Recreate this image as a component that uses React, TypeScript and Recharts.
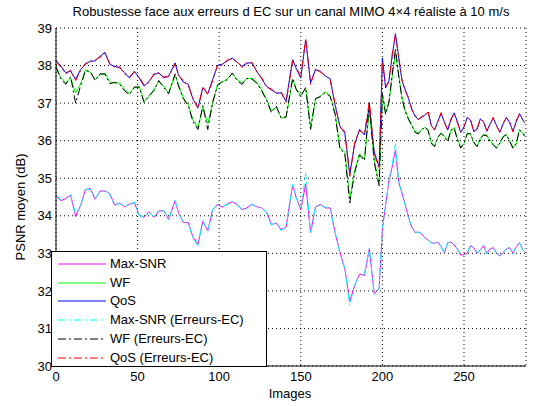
import { CartesianGrid, Legend, Line, LineChart, XAxis, YAxis } from 'recharts';

const images = [
	0, 3, 6, 9, 12, 15, 18, 21, 24, 27, 30, 33, 36, 39, 42, 45, 48, 51, 54, 57, 60, 63, 66, 69,
	73, 75, 78, 81, 84, 87, 90, 93, 96, 99, 102, 105, 108, 111, 114, 117, 120, 123, 126, 129, 132, 135, 138, 141,
	145, 147,
	150, 153, 156, 159, 162, 165, 168, 171, 174, 177, 180, 183, 186, 189, 192, 195, 198,
	200, 202, 204, 206, 208, 210,
	212, 214, 216, 218, 220, 222, 224, 226, 228, 230, 232, 234, 236, 238, 240, 242, 244, 246, 248, 250,
	252, 254, 256, 258, 260, 262, 264, 266, 268, 270, 272, 274, 276, 278, 280, 282, 284, 286, 287,
];

const maxSnr = [
	34.53, 34.4, 34.46, 34.55, 33.98, 34.27, 34.69, 34.73, 34.44, 34.66, 34.66, 34.58, 34.28, 34.34, 34.24, 34.31, 34.35, 34.02, 33.96, 34.11, 33.96, 34.13, 34.13, 33.91,
	34.4, 34.09, 33.82, 33.82, 33.42, 33.25, 33.85, 33.6, 34.16, 34.3, 34.23, 34.32, 34.37, 34.3, 34.16, 34.21, 34.3, 34.24, 34.21, 34.1, 33.77, 33.8, 33.63, 33.7,
	34.82, 34.52,
	34.16, 34.85, 33.55, 34.23, 34.3, 34.21, 34.21, 33.55, 33.02, 32.58, 31.72, 32.14, 32.45, 32.41, 33.12, 31.93, 32.06,
	33.64, 34.3, 34.93, 35.3, 35.75, 34.9,
	34.6, 34.3, 33.95, 33.7, 33.55, 33.57, 33.52, 33.42, 33.35, 33.28, 33.27, 33.3, 33.18, 33.02, 33.28, 33.3, 33.22, 33.12, 32.95, 32.97,
	33.0, 33.2, 33.15, 33.0, 33.1, 33.2, 33.0, 33.12, 33.15, 33.0, 32.93, 33.02, 33.12, 33.15, 33.0, 33.18, 33.28, 33.1, 33.05,
];

const wf = [
	37.98, 37.67, 37.54, 37.67, 37.27, 37.5, 37.89, 37.82, 37.63, 37.76, 37.8, 37.56, 37.54, 37.54, 37.36, 37.26, 37.41, 37.45, 37.05, 37.17, 37.36, 37.58, 37.45, 37.27,
	37.75, 37.5, 37.14, 36.96, 36.55, 36.35, 36.9, 36.45, 37.0, 37.5, 37.56, 37.65, 37.79, 37.63, 37.54, 37.65, 37.67, 37.56, 37.36, 37.1, 36.79, 36.9, 36.6, 36.62,
	37.63, 37.4,
	37.2, 37.4, 36.35, 37.1, 37.2, 37.3, 37.2, 36.75, 35.8, 35.7, 34.45, 35.2, 35.65, 35.5, 36.8, 35.5, 34.85,
	37.2, 36.75, 37.0, 37.7, 38.35, 37.75,
	37.15, 36.8, 36.6, 36.42, 36.25, 36.2, 36.3, 36.35, 36.3, 35.95, 35.86, 36.08, 36.21, 36.12, 36.0, 36.26, 36.35, 36.05, 35.82, 35.92,
	36.2, 36.17, 35.97, 35.86, 36.04, 36.17, 36.15, 36.0, 35.9, 35.82, 35.92, 36.12, 36.15, 36.0, 35.82, 35.9, 36.3, 36.2, 36.15,
];

const qos = [
	38.14, 37.98, 37.81, 37.85, 37.63, 37.89, 38.03, 38.12, 38.12, 38.25, 38.35, 38.03, 37.98, 37.94, 37.81, 37.67, 37.85, 37.67, 37.45, 37.58, 37.76, 37.81, 37.67, 37.72,
	38.07, 37.76, 37.56, 37.5, 37.1, 36.88, 37.41, 37.25, 37.63, 38.0, 38.04, 38.13, 38.2, 38.09, 37.98, 38.07, 38.07, 37.85, 37.65, 37.45, 37.35, 37.27, 37.27, 37.05,
	38.16, 37.94,
	37.67, 38.69, 37.54, 37.89, 37.85, 37.72, 37.65, 36.95, 36.39, 36.2, 35.1, 35.9, 36.3, 36.15, 36.92, 35.7, 35.3,
	38.2, 37.4, 37.6, 38.25, 38.85, 38.2,
	37.6, 37.35, 37.12, 36.85, 36.65, 36.57, 36.62, 36.68, 36.76, 36.4, 36.28, 36.52, 36.72, 36.5, 36.28, 36.55, 36.74, 36.5, 36.22, 36.36,
	36.62, 36.55, 36.25, 36.3, 36.58, 36.5, 36.25, 36.45, 36.6, 36.4, 36.22, 36.45, 36.62, 36.48, 36.25, 36.5, 36.72, 36.55, 36.5,
];

const maxSnrErr = [
	34.55, 34.42, 34.44, 34.57, 34.05, 34.25, 34.71, 34.7, 34.46, 34.64, 34.68, 34.56, 34.3, 34.32, 34.26, 34.29, 34.37, 34.0, 33.98, 34.09, 33.98, 34.11, 34.15, 33.89,
	34.42, 34.07, 33.84, 33.8, 33.4, 33.2, 33.88, 33.58, 34.18, 34.28, 34.25, 34.3, 34.39, 34.28, 34.18, 34.19, 34.32, 34.22, 34.23, 34.08, 33.75, 33.82, 33.6, 33.72,
	34.85, 34.5,
	34.18, 35.13, 33.52, 34.25, 34.28, 34.23, 34.19, 33.57, 33.0, 32.6, 31.62, 32.17, 32.42, 32.44, 33.15, 31.9, 32.08,
	33.66, 34.28, 34.95, 35.35, 35.92, 34.88,
	34.62, 34.28, 33.97, 33.68, 33.57, 33.55, 33.54, 33.4, 33.37, 33.26, 33.29, 33.28, 33.2, 33.0, 33.3, 33.28, 33.24, 33.1, 32.97, 32.95,
	33.02, 33.22, 33.13, 33.02, 33.08, 33.22, 32.98, 33.14, 33.13, 33.02, 32.91, 33.04, 33.1, 33.17, 32.98, 33.2, 33.3, 33.08, 33.07,
];

const wfErr = [
	37.96, 37.64, 37.5, 37.7, 37.0, 37.45, 37.86, 37.84, 37.6, 37.78, 37.77, 37.52, 37.55, 37.5, 37.33, 37.22, 37.43, 37.42, 37.02, 37.2, 37.33, 37.6, 37.42, 37.25,
	37.78, 37.46, 37.12, 36.93, 36.5, 36.3, 36.93, 36.3, 37.02, 37.47, 37.58, 37.62, 37.8, 37.6, 37.5, 37.66, 37.64, 37.53, 37.33, 37.08, 36.75, 36.92, 36.6, 36.64,
	37.66, 37.38,
	37.17, 37.42, 36.3, 37.12, 37.17, 37.28, 37.18, 36.7, 35.78, 35.65, 34.34, 35.15, 35.62, 35.47, 37.0, 35.42, 34.8,
	37.25, 36.7, 37.03, 37.75, 38.45, 37.72,
	37.12, 36.77, 36.57, 36.4, 36.22, 36.18, 36.28, 36.37, 36.27, 35.92, 35.84, 36.1, 36.19, 36.1, 35.97, 36.28, 36.33, 36.02, 35.8, 35.94,
	36.18, 36.19, 35.95, 35.84, 36.06, 36.15, 36.13, 35.98, 35.88, 35.8, 35.94, 36.1, 36.17, 35.98, 35.8, 35.92, 36.28, 36.22, 36.12,
];

const qosErr = [
	38.12, 37.95, 37.78, 37.88, 37.6, 37.86, 38.06, 38.1, 38.15, 38.22, 38.32, 38.05, 37.95, 37.97, 37.78, 37.7, 37.82, 37.7, 37.48, 37.55, 37.78, 37.79, 37.7, 37.7,
	38.04, 37.74, 37.6, 37.47, 37.12, 36.85, 37.44, 37.22, 37.6, 38.02, 38.01, 38.15, 38.17, 38.1, 37.95, 38.05, 38.09, 37.83, 37.68, 37.42, 37.38, 37.25, 37.3, 37.02,
	38.13, 37.97,
	37.7, 38.72, 37.5, 37.92, 37.82, 37.75, 37.62, 36.98, 36.35, 36.25, 35.05, 35.95, 36.27, 36.18, 37.05, 35.65, 35.25,
	38.1, 37.45, 37.55, 38.3, 38.82, 38.25,
	37.62, 37.32, 37.15, 36.82, 36.68, 36.55, 36.65, 36.66, 36.79, 36.38, 36.3, 36.5, 36.75, 36.48, 36.3, 36.58, 36.72, 36.47, 36.24, 36.38,
	36.6, 36.57, 36.23, 36.33, 36.56, 36.52, 36.27, 36.43, 36.63, 36.38, 36.24, 36.47, 36.6, 36.5, 36.23, 36.53, 36.7, 36.58, 36.48,
];

const xTicks = [0, 50, 100, 150, 200, 250];
const yTicks = [30, 31, 32, 33, 34, 35, 36, 37, 38, 39];

const series = [
	{ key: 'maxSnr', name: 'Max-SNR', color: '#ff00ff', dash: undefined },
	{ key: 'wf', name: 'WF', color: '#00ff00', dash: undefined },
	{ key: 'qos', name: 'QoS', color: '#0000ff', dash: undefined },
	{ key: 'maxSnrErr', name: 'Max-SNR (Erreurs-EC)', color: '#00ffff', dash: '8 3 2 3' },
	{ key: 'wfErr', name: 'WF (Erreurs-EC)', color: '#000000', dash: '8 3 2 3' },
	{ key: 'qosErr', name: 'QoS (Erreurs-EC)', color: '#ff0000', dash: '8 3 2 3' },
];

const data = images.map((image, i) => ({
	image,
	maxSnr: maxSnr[i],
	wf: wf[i],
	qos: qos[i],
	maxSnrErr: maxSnrErr[i],
	wfErr: wfErr[i],
	qosErr: qosErr[i],
}));

const font = '"Liberation Sans", Arial, Helvetica, sans-serif';
const blank = () => '';

function LegendBox() {
	return (
		<div
			style={{
				width: 216,
				height: 116,
				boxSizing: 'border-box',
				border: '1px solid #000',
				background: '#fff',
				fontFamily: font,
				fontSize: 13,
				color: '#000',
				position: 'relative',
			}}
		>
			{series.map((s, i) => (
				<div key={s.key} style={{ position: 'absolute', left: 0, top: 3 + i * 18.7, height: 18, width: 214 }}>
					<svg width={56} height={18} style={{ position: 'absolute', left: 0, top: 0 }}>
						<line x1={6} x2={54} y1={9} y2={9} stroke={s.color} strokeWidth={1} strokeDasharray={s.dash} />
					</svg>
					<span style={{ position: 'absolute', left: 58, top: 1, whiteSpace: 'nowrap', lineHeight: '16px' }}>{s.name}</span>
				</div>
			))}
		</div>
	);
}

export default function App() {
	return (
		<div style={{ position: 'absolute', left: 0, top: 0, width: 536, height: 406, background: '#fff', fontFamily: font }}>
			<div style={{ position: 'absolute', left: 56, width: 470, top: 4, textAlign: 'center', fontSize: 13, whiteSpace: 'nowrap' }}>
				Robustesse face aux erreurs d EC sur un canal MIMO 4×4 réaliste à 10 m/s
			</div>
			<div
				style={{
					position: 'absolute',
					left: 20,
					top: 207,
					transform: 'translate(-50%, -50%) rotate(-90deg)',
					fontSize: 13,
					whiteSpace: 'nowrap',
				}}
			>
				PSNR moyen (dB)
			</div>
			<div style={{ position: 'absolute', left: 240, width: 100, top: 386, textAlign: 'center', fontSize: 13 }}>Images</div>
			<LineChart width={536} height={406} data={data} margin={{ top: 28, right: 10, bottom: 0, left: 0 }}>
				<CartesianGrid stroke='#000' strokeDasharray='1 3' />
				<XAxis
					dataKey='image'
					type='number'
					domain={[0, 288]}
					ticks={xTicks}
					height={40}
					tickSize={0}
					tickMargin={6}
					axisLine={{ stroke: '#000' }}
					tick={{ fill: '#000', fontSize: 13, fontFamily: font }}
				/>
				<XAxis
					xAxisId='top'
					orientation='top'
					dataKey='image'
					type='number'
					domain={[0, 288]}
					ticks={xTicks}
					height={0}
					mirror
					tickSize={4}
					tickFormatter={blank}
					axisLine={{ stroke: '#000' }}
					tickLine={{ stroke: '#000' }}
				/>
				<YAxis
					type='number'
					domain={[30, 39]}
					ticks={yTicks}
					width={56}
					tickSize={0}
					tickMargin={4}
					axisLine={{ stroke: '#000' }}
					tick={{ fill: '#000', fontSize: 13, fontFamily: font }}
				/>
				<YAxis
					yAxisId='right'
					orientation='right'
					type='number'
					domain={[30, 39]}
					ticks={yTicks}
					width={0}
					mirror
					tickSize={4}
					tickFormatter={blank}
					axisLine={{ stroke: '#000' }}
					tickLine={{ stroke: '#000' }}
				/>
				{series.map((s) => (
					<Line
						key={s.key}
						dataKey={s.key}
						name={s.name}
						type='linear'
						stroke={s.color}
						strokeWidth={1}
						strokeDasharray={s.dash}
						dot={false}
						activeDot={false}
						isAnimationActive={false}
					/>
				))}
				<Legend
					layout='vertical'
					align='center'
					verticalAlign='middle'
					wrapperStyle={{ left: 51, top: 251, width: 216, height: 116 }}
					content={() => <LegendBox />}
				/>
			</LineChart>
		</div>
	);
}
